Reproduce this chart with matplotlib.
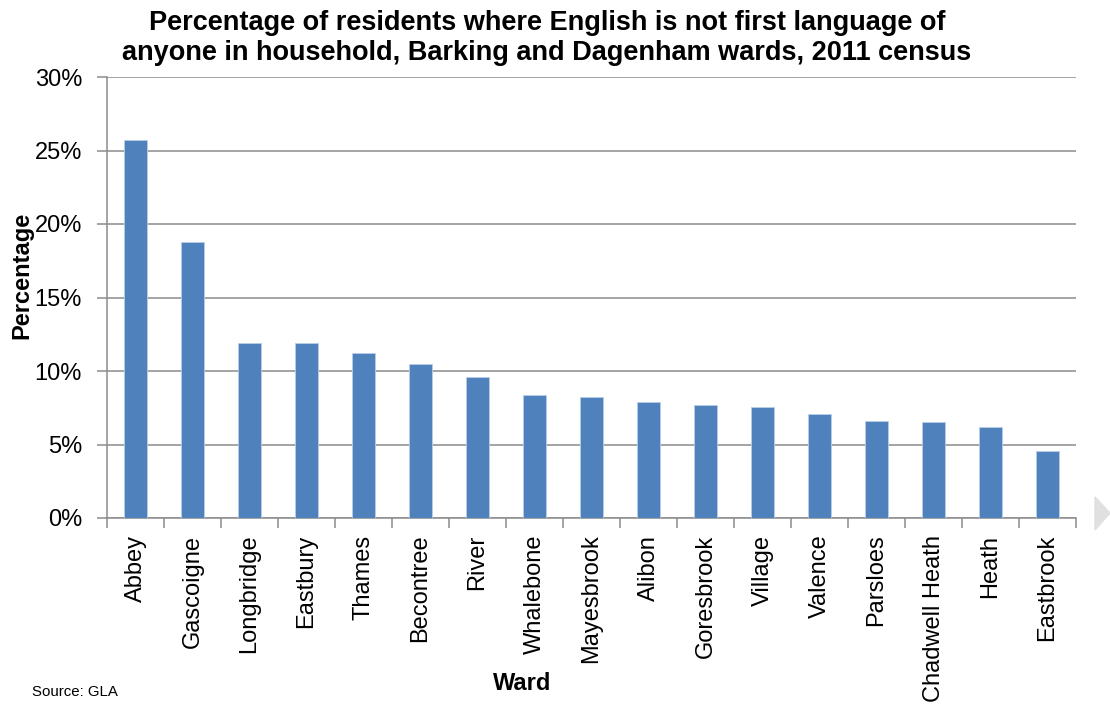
import matplotlib
matplotlib.use('Agg')
from matplotlib import pyplot as plt
from matplotlib.patches import Polygon
from matplotlib.ticker import FuncFormatter, FixedLocator

wards = ['Abbey', 'Gascoigne', 'Longbridge', 'Eastbury', 'Thames', 'Becontree',
         'River', 'Whalebone', 'Mayesbrook', 'Alibon', 'Goresbrook', 'Village',
         'Valence', 'Parsloes', 'Chadwell Heath', 'Heath', 'Eastbrook']
pct = [25.7, 18.75, 11.9, 11.9, 11.2, 10.5, 9.6, 8.37, 8.23, 7.91, 7.69, 7.53,
       7.08, 6.6, 6.53, 6.21, 4.55]

plt.rcParams['font.family'] = ['Liberation Sans', 'DejaVu Sans']

fig = plt.figure(figsize=(11.1, 7.04), dpi=100)
ax = fig.add_axes([107 / 1110, 1 - 518 / 704, (1076 - 107) / 1110, (518 - 77) / 704])

x = range(len(wards))
ax.bar(x, pct, width=0.41, color='#4f81bd', edgecolor='#b9cde5', linewidth=0.6, zorder=3)

ax.set_xlim(-0.5, len(wards) - 0.5)
ax.set_ylim(0, 30)
ax.set_yticks([0, 5, 10, 15, 20, 25, 30])
ax.yaxis.set_major_formatter(FuncFormatter(lambda v, p: f'{v:.0f}%'))
ax.grid(axis='y', color='#8c8c8c', linewidth=1.1, zorder=0)

ax.set_xticks(list(x))
ax.set_xticklabels(wards, rotation=90, fontsize=17)
ax.tick_params(axis='x', length=0, pad=12)
# tick marks between categories
ax.xaxis.set_minor_locator(FixedLocator([i - 0.5 for i in range(len(wards) + 1)]))
ax.tick_params(axis='x', which='minor', length=7, color='#8c8c8c', width=1.1)
ax.tick_params(axis='y', length=7, color='#8c8c8c', width=1.1, labelsize=17, pad=11)

for s in ['top', 'right']:
    ax.spines[s].set_visible(False)
for s in ['left', 'bottom']:
    ax.spines[s].set_color('#8c8c8c')
    ax.spines[s].set_linewidth(1.1)

fig.text(22 / 1110, 1 - 275 / 704, 'Percentage', fontsize=17, fontweight='bold',
         rotation=90, ha='center', va='center')
fig.text(522 / 1110, 1 - 683 / 704, 'Ward', fontsize=17, fontweight='bold',
         ha='center', va='center')

fig.text(547 / 1110, 1 - 38 / 704,
         'Percentage of residents where English is not first language of\n'
         'anyone in household, Barking and Dagenham wards, 2011 census',
         fontsize=19.5, fontweight='bold', ha='center', va='center',
         linespacing=1.15)

fig.text(32 / 1110, 1 - 692 / 704, 'Source: GLA', fontsize=10.8, ha='left', va='center')

# small grey marker at right edge
tri = Polygon([[1095 / 1110, 1 - 497 / 704], [1110 / 1110, 1 - 513 / 704],
               [1095 / 1110, 1 - 530 / 704]], closed=True, transform=fig.transFigure,
              color='#e0e0e0')
fig.patches.append(tri)

fig.savefig('out.png', dpi=100)
